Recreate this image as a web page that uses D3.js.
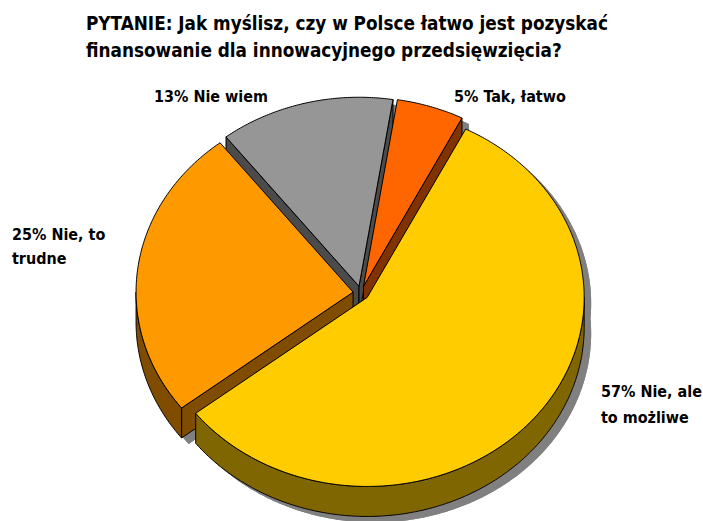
<!DOCTYPE html>
<html>
<head>
<meta charset="utf-8">
<script src="https://cdn.jsdelivr.net/npm/d3@7"></script>
<style>
  body { margin: 0; background: #fff; }
  svg { display: block; }
  text { font-family: "DejaVu Sans Condensed", "DejaVu Sans", sans-serif; font-weight: bold; fill: #000; }
</style>
</head>
<body>
<div id="chart"></div>
<script>
const titleLines = ["PYTANIE: Jak myślisz, czy w Polsce łatwo jest pozyskać", "finansowanie dla innowacyjnego przedsięwzięcia?"];
const categories = ["Tak, łatwo", "Nie, ale to możliwe", "Nie, to trudne", "Nie wiem"];
const values = [5, 57, 25, 13];
const labelLines = [["5% Tak, łatwo"], ["57% Nie, ale", "to możliwe"], ["25% Nie, to", "trudne"], ["13% Nie wiem"]];
const topColors = ["#FF6600", "#FFCC00", "#FF9900", "#969696"];
const sideColors = ["#803300", "#806600", "#804C00", "#4B4B4B"];

const width = 703, height = 521;
const cx = 361, cy = 293, rx = 217, ry = 189, depth = 30, explode = 8;
const tilt = ry / rx;
const startAngle = 9 * Math.PI / 180;

const svg = d3.select("#chart").append("svg")
  .attr("width", width)
  .attr("height", height);

// squeeze a group of texts so the first one spans `target` px (reference font is narrower)
function squeeze(sel, target) {
  const nodes = sel.nodes();
  const k = target / nodes[0].getComputedTextLength();
  nodes.forEach(n => {
    n.setAttribute("textLength", n.getComputedTextLength() * k);
    n.setAttribute("lengthAdjust", "spacingAndGlyphs");
  });
}

// title
const title = svg.append("g").selectAll("text")
  .data(titleLines)
  .join("text")
  .attr("x", 86)
  .attr("y", (d, i) => 30 + i * 27)
  .style("font-size", "20px")
  .text(d => d);
squeeze(title, 522);

const pie = d3.pie().sort(null).startAngle(startAngle).endAngle(startAngle + 2 * Math.PI);
const arcs = pie(values).map((a, i) => {
  const m = (a.startAngle + a.endAngle) / 2;
  return { ...a, i, mid: m, ox: explode * Math.sin(m), oy: -explode * tilt * Math.cos(m) };
});

// projected point on the tilted ellipse
const pt = (s, ang, dz = 0) => [cx + s.ox + rx * Math.sin(ang), cy + s.oy - ry * Math.cos(ang) + dz];
const apex = (s, dz = 0) => [cx + s.ox, cy + s.oy + dz];
const line = d3.line().curve(d3.curveLinear);

function arcPts(s, a0, a1, dz) {
  const n = Math.max(2, Math.ceil(Math.abs(a1 - a0) / 0.01));
  return d3.range(n + 1).map(k => pt(s, a0 + (a1 - a0) * k / n, dz));
}
const topPath = (s, dz = 0) => line([apex(s, dz), ...arcPts(s, s.startAngle, s.endAngle, dz)]) + "Z";
const radialPath = (s, ang) => line([apex(s), pt(s, ang), pt(s, ang, depth), apex(s, depth)]) + "Z";
const outerPath = (s, a0, a1) => line([...arcPts(s, a0, a1, 0), ...arcPts(s, a1, a0, depth)]) + "Z";

// visible parts of the outer wall (front half of the ellipse)
function frontRanges(s) {
  const out = [];
  [[Math.PI / 2, 3 * Math.PI / 2], [5 * Math.PI / 2, 7 * Math.PI / 2]].forEach(([lo, hi]) => {
    const a0 = Math.max(lo, s.startAngle), a1 = Math.min(hi, s.endAngle);
    if (a1 > a0) out.push([a0, a1]);
  });
  return out;
}

// drop shadow
const shadow = svg.append("g").attr("transform", "translate(7,6)").attr("fill", "#808080");
arcs.forEach(s => {
  shadow.append("path").attr("d", topPath(s));
  shadow.append("path").attr("d", topPath(s, depth));
  shadow.append("path").attr("d", outerPath(s, s.startAngle, s.endAngle));
  shadow.append("path").attr("d", radialPath(s, s.startAngle));
  shadow.append("path").attr("d", radialPath(s, s.endAngle));
});

// slices back to front
const order = arcs.slice().sort((a, b) => -Math.cos(a.mid) - -Math.cos(b.mid));
const slices = svg.append("g").attr("stroke", "#000").attr("stroke-width", 1).attr("stroke-linejoin", "round");
order.forEach(s => {
  const g = slices.append("g");
  // radial walls facing the viewer
  if (Math.cos(s.startAngle - Math.PI / 2) < 0)
    g.append("path").attr("d", radialPath(s, s.startAngle)).attr("fill", sideColors[s.i]);
  if (Math.cos(s.endAngle + Math.PI / 2) < 0)
    g.append("path").attr("d", radialPath(s, s.endAngle)).attr("fill", sideColors[s.i]);
  frontRanges(s).forEach(([a0, a1]) => {
    g.append("path").attr("d", outerPath(s, a0, a1)).attr("fill", sideColors[s.i]);
  });
  g.append("path").attr("d", topPath(s)).attr("fill", topColors[s.i]);
});

// data labels
const labelPos = [[454, 102], [601, 397], [12, 240], [154, 102]];
const lineGap = [0, 26, 24, 0];
const labelTexts = [];
labelLines.forEach((lines, i) => {
  svg.append("g").selectAll("text")
    .data(lines)
    .join("text")
    .attr("x", labelPos[i][0])
    .attr("y", (d, k) => labelPos[i][1] + k * lineGap[i])
    .style("font-size", "16px")
    .text(d => d)
    .each(function () { labelTexts.push(this); });
});
// "13% Nie wiem" is 114 px wide in the reference
const ref = labelTexts[labelTexts.length - 1];
squeeze(d3.selectAll([ref, ...labelTexts.filter(n => n !== ref)]), 114);
</script>
</body>
</html>
